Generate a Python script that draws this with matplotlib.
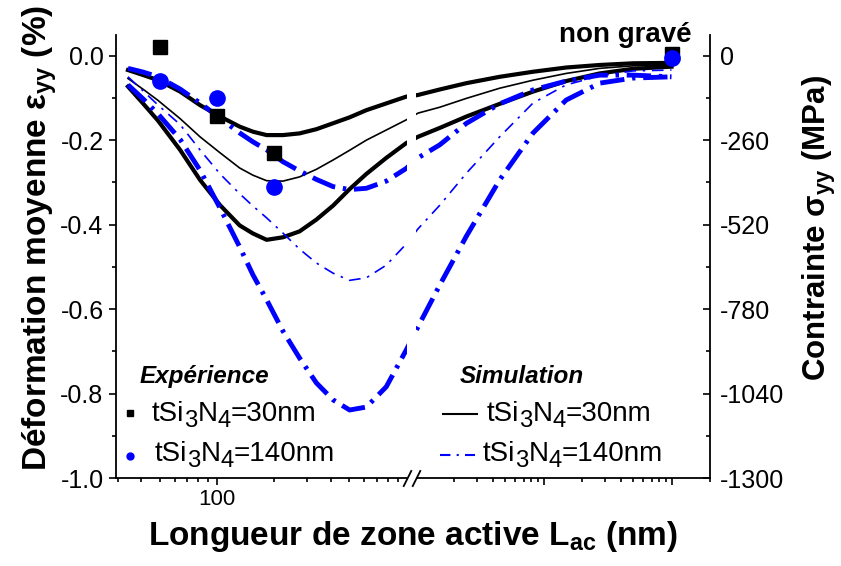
import numpy as np
import matplotlib
matplotlib.use("Agg")
import matplotlib.pyplot as plt
from matplotlib.ticker import FixedLocator, FixedFormatter, NullFormatter
from matplotlib.transforms import blended_transform_factory
from matplotlib.patches import Rectangle

plt.rcParams['font.family'] = ['Liberation Sans', 'DejaVu Sans']
plt.rcParams['mathtext.fontset'] = 'custom'
plt.rcParams['mathtext.rm'] = 'Liberation Sans'
plt.rcParams['mathtext.it'] = 'Liberation Sans:italic'
plt.rcParams['mathtext.bf'] = 'Liberation Sans:bold'
plt.rcParams['axes.unicode_minus'] = False

# ---------------- data ----------------
# experimental points (active-zone length in nm, mean strain in %)
exp_L = [50, 100, 200, 100000]
exp_30nm = [0.020, -0.142, -0.230, 0.003]
exp_140nm = [-0.059, -0.099, -0.310, -0.006]

# simulation curves
sim_L = [34, 41, 49, 64, 81.5, 104, 132, 155, 183, 223, 273, 335, 410, 501, 614, 782, 996,
         1040, 1540, 2490, 4530, 8260, 15000, 27400, 50000, 100000]
sim30_a = [-0.034, -0.046, -0.058, -0.085, -0.117, -0.144, -0.168, -0.180, -0.188, -0.188, -0.184,
           -0.174, -0.160, -0.146, -0.129, -0.113, -0.097,
           -0.093, -0.080, -0.065, -0.050, -0.038, -0.028, -0.022, -0.018, -0.017]
sim30_b = [-0.054, -0.080, -0.106, -0.149, -0.192, -0.230, -0.266, -0.283, -0.296, -0.297, -0.287,
           -0.269, -0.247, -0.224, -0.200, -0.176, -0.152,
           -0.136, -0.122, -0.101, -0.077, -0.058, -0.042, -0.030, -0.024, -0.022]
sim30_c = [-0.073, -0.114, -0.154, -0.223, -0.294, -0.354, -0.402, -0.421, -0.436, -0.430, -0.416,
           -0.388, -0.355, -0.316, -0.280, -0.242, -0.207,
           -0.192, -0.171, -0.144, -0.114, -0.085, -0.060, -0.042, -0.031, -0.026]
sim140_a = [-0.030, -0.039, -0.050, -0.079, -0.112, -0.148, -0.183, -0.204, -0.223, -0.251, -0.273,
            -0.293, -0.310, -0.317, -0.314, -0.297, -0.267,
            -0.242, -0.211, -0.160, -0.114, -0.081, -0.060, -0.046, -0.046, -0.050]
sim140_b = [-0.050, -0.084, -0.117, -0.163, -0.223, -0.280, -0.327, -0.356, -0.384, -0.420, -0.458,
            -0.491, -0.515, -0.532, -0.526, -0.496, -0.446,
            -0.410, -0.354, -0.278, -0.192, -0.112, -0.069, -0.048, -0.036, -0.034]
sim140_c = [-0.069, -0.103, -0.138, -0.198, -0.271, -0.361, -0.453, -0.519, -0.578, -0.652, -0.716,
            -0.775, -0.815, -0.839, -0.832, -0.784, -0.697,
            -0.642, -0.543, -0.427, -0.294, -0.183, -0.105, -0.065, -0.053, -0.050]

# ticks
x_major = [100, 10000, 100000]
x_major_labels = ['100', '', '']
x_minor = [30, 40, 50, 60, 70, 80, 90, 200, 300, 400, 500, 600, 700, 800, 900,
           2000, 3000, 4000, 5000, 6000, 7000, 8000, 9000,
           20000, 30000, 40000, 50000, 60000, 70000, 80000, 90000, 200000]
y_major = [0.0, -0.2, -0.4, -0.6, -0.8, -1.0]
y_major_labels = ['0.0', '-0.2', '-0.4', '-0.6', '-0.8', '-1.0']
y_minor = [-0.1, -0.3, -0.5, -0.7, -0.9]
s_major = [0, -260, -520, -780, -1040, -1300]
s_major_labels = ['0', '-260', '-520', '-780', '-1040', '-1300']
s_minor = [-130, -390, -650, -910, -1170]
BREAK_AT = 1000

# ---------------- broken log scale ----------------
GAP = 0.049
R = 0.674


def fwd(x):
    x = np.asarray(x, dtype=float)
    lx = np.log10(np.clip(x, 1e-300, None))
    return np.where(x < BREAK_AT, lx, 3 + GAP + (lx - 3) * R)


def inv(u):
    u = np.asarray(u, dtype=float)
    lo = 10 ** np.clip(u, -300, 3)
    hi = 10 ** np.clip(3 + (u - 3 - GAP) / R, -300, 300)
    return np.where(u <= 3, lo, np.where(u < 3 + GAP, float(BREAK_AT), hi))


BLUE = '#0000FF'
fig = plt.figure(figsize=(8.41, 5.66), dpi=100)
ax = fig.add_axes([116 / 841, 88 / 566, 594 / 841, 443 / 566])
ax.set_xscale('function', functions=(fwd, inv))
ax.set_xlim(29.4, 2e5)
ax.set_ylim(-1.0, 0.049)

thick_dd = (0, (5, 1.6, 0.7, 1.6))
thin_dd = (0, (7, 4, 1.5, 4))
ax.plot(sim_L, sim30_a, color='k', lw=3.0, zorder=2)
ax.plot(sim_L, sim30_b, color='k', lw=1.2, zorder=2)
ax.plot(sim_L, sim30_c, color='k', lw=3.0, zorder=2)
ax.plot(sim_L, sim140_a, color=BLUE, lw=3.5, ls=thick_dd, zorder=2)
ax.plot(sim_L, sim140_b, color=BLUE, lw=1.2, ls=thin_dd, zorder=2)
ax.plot(sim_L, sim140_c, color=BLUE, lw=3.5, ls=thick_dd, zorder=2)

ax.plot(exp_L, exp_30nm, ls='none', marker='s', ms=9.5, color='k', zorder=5, clip_on=False)
ax.plot(exp_L, exp_140nm, ls='none', marker='o', ms=11, color=BLUE, zorder=6, clip_on=False)

# axis break
trans = blended_transform_factory(ax.transData, ax.transAxes)
ax.add_patch(Rectangle((BREAK_AT - 0.01, -0.012), 0.02, 1.02, transform=trans,
                       facecolor='white', edgecolor='none', zorder=3, clip_on=False))
for xb in (BREAK_AT - 0.01, BREAK_AT + 0.01):
    ax.plot([xb], [0], transform=trans, marker=[(-1, -2), (1, 2)], ms=12, mew=1.3,
            color='k', clip_on=False, zorder=4)

# ticks
ax.xaxis.set_major_locator(FixedLocator(x_major))
ax.xaxis.set_major_formatter(FixedFormatter(x_major_labels))
ax.xaxis.set_minor_locator(FixedLocator(x_minor))
ax.xaxis.set_minor_formatter(NullFormatter())
ax.yaxis.set_major_locator(FixedLocator(y_major))
ax.yaxis.set_major_formatter(FixedFormatter(y_major_labels))
ax.yaxis.set_minor_locator(FixedLocator(y_minor))
ax.tick_params(axis='both', which='both', direction='out', width=1.2)
ax.tick_params(axis='x', which='major', length=5, labelsize=16, pad=3)
ax.tick_params(axis='x', which='minor', length=3)
ax.tick_params(axis='y', which='major', length=5, labelsize=18, pad=4)
ax.tick_params(axis='y', which='minor', length=3)
for s in ('top', 'right'):
    ax.spines[s].set_visible(False)
for s in ('left', 'bottom'):
    ax.spines[s].set_linewidth(1.3)

ax2 = ax.twinx()
ax2.set_ylim(-1300, 0.049 * 1300)
ax2.yaxis.set_major_locator(FixedLocator(s_major))
ax2.yaxis.set_major_formatter(FixedFormatter(s_major_labels))
ax2.yaxis.set_minor_locator(FixedLocator(s_minor))
ax2.tick_params(axis='y', which='both', direction='in', width=1.2)
ax2.tick_params(axis='y', which='major', length=5, labelsize=18, pad=7)
ax2.tick_params(axis='y', which='minor', length=3)
for s in ('top', 'left', 'bottom'):
    ax2.spines[s].set_visible(False)
ax2.spines['right'].set_linewidth(1.3)

# axis titles
fig.text(413 / 841, (566 - 545) / 566, r"Longueur de zone active L$_{\mathbf{ac}}$ (nm)",
         ha='center', va='baseline', fontsize=24, fontweight='bold')
fig.text(47 / 841, (566 - 238) / 566, r"Déformation moyenne ε$_{\mathbf{yy}}$ (%)",
         ha='center', va='baseline', rotation=90, rotation_mode='anchor',
         fontsize=24, fontweight='bold')
fig.text(826 / 841, (566 - 228) / 566, r"Contrainte σ$_{\mathbf{yy}}$ (MPa)",
         ha='center', va='baseline', rotation=90, rotation_mode='anchor',
         fontsize=22.5, fontweight='bold')

ax.annotate("non gravé", xy=(1e5, 0), xytext=(-33, 15), textcoords='offset points',
            ha='center', va='center', fontsize=20, fontweight='bold')

# legend (drawn manually)
SUBDY = 3.5


def chem(x, y, tail, fs):
    parts = [("3", 1), ("N", 0), ("4", 1), (tail, 0)]
    prev = ax.text(x, y, "tSi", transform=ax.transAxes, fontsize=fs, va='bottom', ha='left')
    prev_sub = 0
    for s, sub in parts:
        dy = (-SUBDY if sub else 0) - (-SUBDY if prev_sub else 0)
        prev = ax.annotate(s, xy=(1, 0), xycoords=prev, xytext=(0, dy),
                           textcoords='offset points', fontsize=fs * (0.86 if sub else 1),
                           va='bottom', ha='left')
        prev_sub = sub


ax.text(0.0404, 0.228, "Expérience", transform=ax.transAxes, fontsize=17.5,
        fontweight='bold', fontstyle='italic', va='center', ha='left')
ax.plot([0.0236], [0.147], transform=ax.transAxes, marker='s', ms=4.5, color='k',
        ls='none', clip_on=False)
ax.plot([0.0236], [0.0497], transform=ax.transAxes, marker='o', ms=5, color=BLUE,
        ls='none', clip_on=False)
chem(0.0606, 0.115, "=30nm", 20)
chem(0.0657, 0.025, "=140nm", 20)

ax.text(0.579, 0.228, "Simulation", transform=ax.transAxes, fontsize=17.5,
        fontweight='bold', fontstyle='italic', va='center', ha='left')
ax.plot([0.5505, 0.6077], [0.1445, 0.1445], transform=ax.transAxes, color='k', lw=1.5,
        clip_on=False)
ax.plot([0.5455, 0.6044], [0.0519, 0.0519], transform=ax.transAxes, color=BLUE, lw=1.5,
        ls=(0, (5, 3, 1, 3)), clip_on=False)
chem(0.6246, 0.115, "=30nm", 20)
chem(0.618, 0.025, "=140nm", 20)

fig.savefig("out.png", dpi=100)
